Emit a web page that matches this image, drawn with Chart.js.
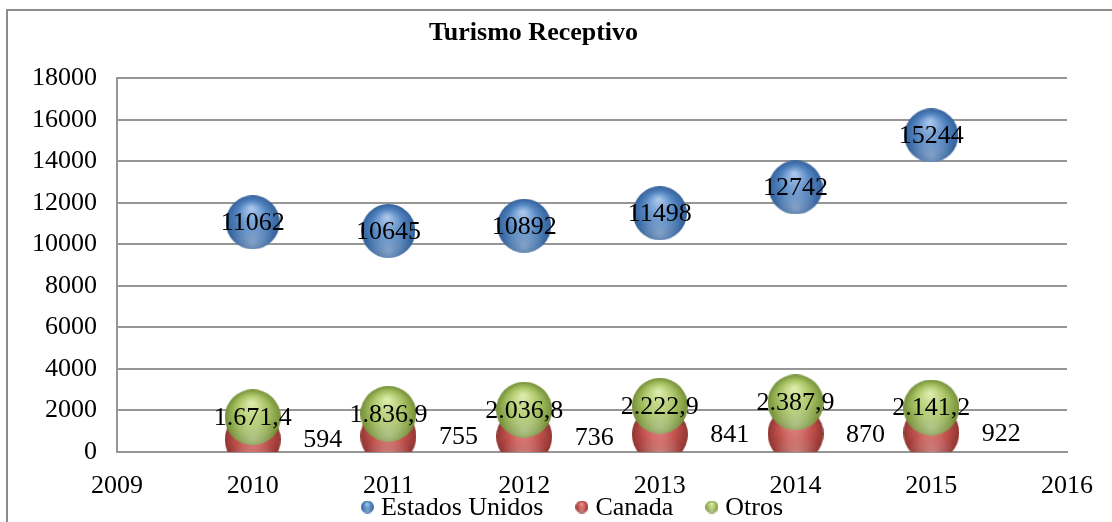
<!DOCTYPE html>
<html>
<head>
<meta charset="utf-8">
<title>Turismo Receptivo</title>
<script src="https://cdn.jsdelivr.net/npm/chart.js@4.4.0/dist/chart.umd.min.js"></script>
<style>
    html, body { margin: 0; padding: 0; background: #fff; overflow: hidden; }
    #frame { position: absolute; left: 6px; top: 9px; width: 1200px; height: 600px; border: 2px solid #8c8c8c; }
    #wrap { position: absolute; left: 0; top: 0; width: 1112px; height: 522px; }
</style>
</head>
<body>
<div id="frame"></div>
<div id="wrap"><canvas id="myChart"></canvas></div>
<script>
const years = [2010, 2011, 2012, 2013, 2014, 2015];
const estadosUnidos = [11062, 10645, 10892, 11498, 12742, 15244];
const canada = [594, 755, 736, 841, 870, 922];
const otros = [1671.4, 1836.9, 2036.8, 2222.9, 2387.9, 2141.2];
const seriesNames = ['Estados Unidos', 'Canada', 'Otros'];
const xMin = 2009, xMax = 2016;
const yMin = 0, yMax = 18000, yStep = 2000;

const FONT = '"Liberation Serif", "Times New Roman", serif';

// shaded ball used as point style
function makeSphere(d, light, base, dark) {
    const c = document.createElement('canvas');
    c.width = c.height = d;
    const g = c.getContext('2d');
    const r = d / 2;
    const grad = g.createRadialGradient(r * 0.95, r * 0.5, r * 0.05, r, r, r);
    grad.addColorStop(0, light);
    grad.addColorStop(0.55, base);
    grad.addColorStop(1, dark);
    g.fillStyle = grad;
    g.beginPath();
    g.arc(r, r, r, 0, Math.PI * 2);
    g.fill();
    const glow = g.createRadialGradient(r, r * 1.75, 0, r, r * 1.75, r * 0.85);
    glow.addColorStop(0, 'rgba(255,255,255,0.35)');
    glow.addColorStop(1, 'rgba(255,255,255,0)');
    g.fillStyle = glow;
    g.fill();
    return c;
}

const palette = [
    ['#a8c6ec', '#5284c0', '#33619a'],
    ['#eb9996', '#c4534f', '#913531'],
    ['#dcecab', '#a8c464', '#748f38']
];
const ballSizes = [54, 56, 56];
const bigBalls = palette.map((p, i) => makeSphere(ballSizes[i], p[0], p[1], p[2]));
const smallBalls = palette.map(p => makeSphere(13, p[0], p[1], p[2]));

function toPoints(values) {
    return years.map((x, i) => ({ x: x, y: values[i] }));
}

function formatEs(v) {
    const parts = v.toFixed(1).split('.');
    return parts[0].replace(/\B(?=(\d{3})+(?!\d))/g, '.') + ',' + parts[1];
}

const labelOptions = [
    { dx: 0, fmt: v => String(v) },
    { dx: 70, fmt: v => String(v) },
    { dx: 0, fmt: formatEs }
];

const pointLabels = {
    id: 'pointLabels',
    afterDatasetsDraw(chart) {
        const ctx = chart.ctx;
        ctx.save();
        ctx.font = '26px ' + FONT;
        ctx.fillStyle = '#000';
        ctx.textAlign = 'center';
        ctx.textBaseline = 'middle';
        chart.data.datasets.forEach((ds, i) => {
            const meta = chart.getDatasetMeta(i);
            meta.data.forEach((pt, j) => {
                const opt = labelOptions[i];
                ctx.fillText(opt.fmt(ds.data[j].y), pt.x + opt.dx, pt.y + 1);
            });
        });
        ctx.restore();
    }
};

// legend drawn by hand so it can sit where the original one is
const ballLegend = {
    id: 'ballLegend',
    afterDraw(chart) {
        const ctx = chart.ctx;
        const centerX = 572, centerY = 507;
        const gapBallText = 7, gapItems = 32;
        ctx.save();
        ctx.font = '26px ' + FONT;
        ctx.fillStyle = '#000';
        ctx.textBaseline = 'middle';
        ctx.textAlign = 'left';
        const items = chart.data.datasets.map((ds, i) => ({
            text: ds.label,
            ball: smallBalls[i],
            w: smallBalls[i].width + gapBallText + ctx.measureText(ds.label).width
        }));
        const total = items.reduce((s, it) => s + it.w, 0) + gapItems * (items.length - 1);
        let x = centerX - total / 2;
        items.forEach(it => {
            ctx.drawImage(it.ball, x, centerY - it.ball.height / 2);
            ctx.fillText(it.text, x + it.ball.width + gapBallText, centerY + 1);
            x += it.w + gapItems;
        });
        ctx.restore();
    }
};

const datasets = [estadosUnidos, canada, otros].map((values, i) => ({
    label: seriesNames[i],
    data: toPoints(values),
    pointStyle: bigBalls[i],
    pointRadius: 27,
    pointHoverRadius: 27,
    clip: 0,
    order: [0, 2, 1][i]
}));

const ctx = document.getElementById('myChart').getContext('2d');
const chart = new Chart(ctx, {
    type: 'scatter',
    data: { datasets: datasets },
    plugins: [pointLabels, ballLegend],
    options: {
        responsive: true,
        maintainAspectRatio: false,
        animation: false,
        events: [],
        layout: { padding: { left: 0, right: 45, top: 0, bottom: 20 } },
        plugins: {
            tooltip: { enabled: false },
            legend: { display: false },
            title: {
                display: true,
                text: 'Turismo Receptivo',
                color: '#000',
                font: { family: FONT, size: 26, weight: 'bold' },
                padding: { top: 18, bottom: 29 }
            }
        },
        scales: {
            x: {
                type: 'linear',
                min: xMin,
                max: xMax,
                afterFit: function(scale) { scale.height = 50; },
                grid: { display: false, drawTicks: false },
                border: { display: true, color: '#969696', width: 2 },
                ticks: {
                    stepSize: 1,
                    padding: 19,
                    color: '#000',
                    font: { family: FONT, size: 26 },
                    callback: v => String(v)
                }
            },
            y: {
                min: yMin,
                max: yMax,
                afterFit: function(scale) { scale.width = 117; },
                grid: { color: '#969696', lineWidth: 2, drawTicks: false },
                border: { display: true, color: '#969696', width: 2 },
                ticks: {
                    stepSize: yStep,
                    padding: 20,
                    color: '#000',
                    font: { family: FONT, size: 26 },
                    callback: v => String(v)
                }
            }
        }
    }
});
</script>
</body>
</html>
